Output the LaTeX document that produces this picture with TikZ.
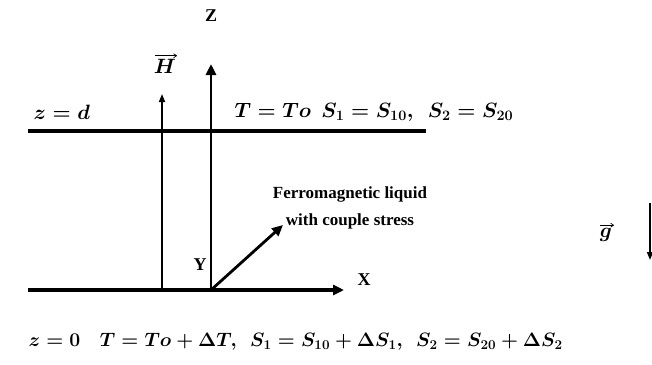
\documentclass[tikz,border=0pt]{standalone}
\usepackage{amsmath,amssymb,bm}
\usepackage{fontspec}
\setmainfont{Liberation Serif}
\usetikzlibrary{arrows.meta}

\begin{document}
\begin{tikzpicture}[
    x=1pt,y=-1pt,
    lbl/.style={font=\bfseries\fontsize{18}{21}\selectfont},
    eq/.style={anchor=west,font=\boldmath\fontsize{20.74}{24}\selectfont},
    vec/.style={inner sep=1pt,font=\boldmath\fontsize{20.74}{24}\selectfont},
    vecbar/.style={-{Straight Barb[length=3pt,width=4pt]},line width=0.7pt},
    axis/.style={-{Triangle[length=11pt,width=10pt]},line width=2.8pt},
    thin axis/.style={-{Triangle[length=8pt,width=6pt]},line width=1.6pt}
  ]
    \useasboundingbox (0,0) rectangle (652,364);
    % points of the frame
    \coordinate (o) at (211,290);
    \coordinate (zt) at (211,64);
    \coordinate (xl) at (28,290);
    \coordinate (xt) at (344,290);
    \coordinate (yt) at (283,225);
    \coordinate (hb) at (162,290);
    \coordinate (ht) at (162,94);
    \coordinate (dl) at (28,131);
    \coordinate (dr) at (426,131);
    \coordinate (gt) at (650,203);
    \coordinate (gb) at (650,260);
    % labels
    \node[lbl] (zlab) at (211,16) {Z};
    \node[vec] (hlab) at (165,66) {$\bm{H}$};
    \node[eq] (topd) at (30,112) {$z = d$};
    \node[eq] (topc) at (231,112) {$T = To\ \ S_1 = S_{10},\ \ S_2 = S_{20}$};
    \node[lbl,font=\bfseries\fontsize{17}{20}\selectfont,align=center] (liq) at (350,208) {Ferromagnetic liquid\\[7pt]with couple stress};
    \node[lbl] (ylab) at (200,265) {Y};
    \node[lbl] (xlab) at (364,280) {X};
    \node[eq] (bot) at (25,342) {\scalebox{0.935}{$z = \mathbf{0}\quad T = To + \Delta T,\ \ S_1 = S_{10} + \Delta S_1,\ \ S_2 = S_{20} + \Delta S_2$}};
    \node[vec] (glab) at (606,235) {$\bm{g}$};
    % vector bars over H and g
    \draw[vecbar] ([xshift=2pt,yshift=2pt]hlab.north west) -- ([yshift=2pt]hlab.north east);
    \draw[vecbar] ([xshift=1pt,yshift=2pt]glab.north west) -- ([xshift=1pt,yshift=2pt]glab.north east);
    % plates and axes
    \draw[line width=3.5pt] (dl) -- (dr);
    \draw[axis,line width=3.5pt] (xl) -- (xt);
    \draw[axis] (o) -- (zt);
    \draw[axis] (o) -- (yt);
    \draw[thin axis] (hb) -- (ht);
    \draw[thin axis] (gt) -- (gb);
  \end{tikzpicture}
\end{document}
